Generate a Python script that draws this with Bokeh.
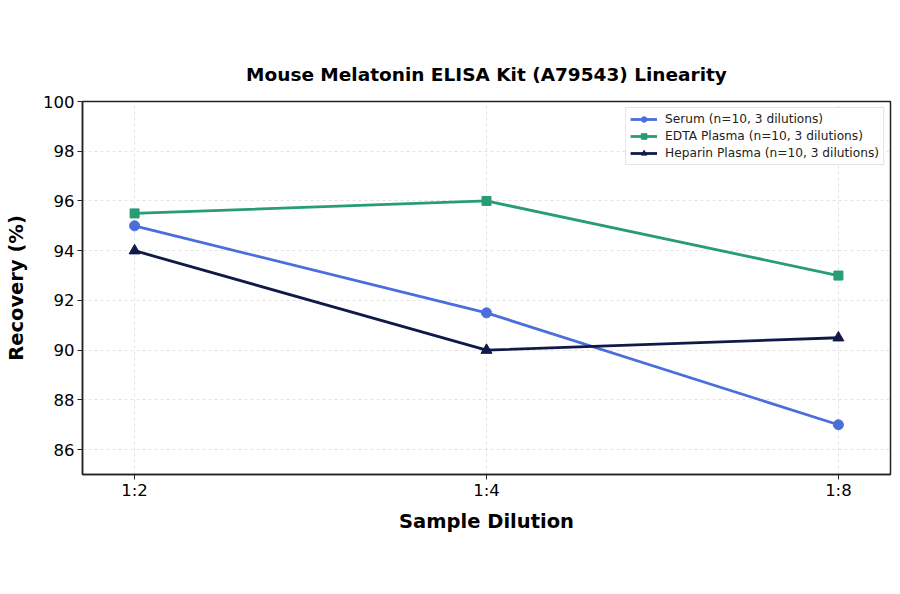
from bokeh.plotting import figure
from bokeh.models import Range1d, FixedTicker, Legend, LegendItem
from bokeh.embed import file_html
from bokeh.resources import INLINE

dilutions = ["1:2", "1:4", "1:8"]
serum = [95.0, 91.5, 87.0]
edta = [95.5, 96.0, 93.0]
heparin = [94.0, 90.0, 90.5]
y_ticks = [86, 88, 90, 92, 94, 96, 98, 100]

labels = ["Serum (n=10, 3 dilutions)", "EDTA Plasma (n=10, 3 dilutions)", "Heparin Plasma (n=10, 3 dilutions)"]
colors = ["#4a6fdc", "#279d74", "#101a48"]

x = list(range(len(dilutions)))
FONT = "DejaVu Sans"

p = figure(width=900, height=594, output_backend="svg", toolbar_location=None,
           x_range=Range1d(-0.148, len(dilutions) - 1 + 0.148), y_range=Range1d(85, 100),
           min_border_left=82, min_border_right=10, min_border_top=101, min_border_bottom=120)

p.title.text = "Mouse Melatonin ELISA Kit (A79543) Linearity"
p.title.align = "center"
p.title.text_font = FONT
p.title.text_font_size = "18.5px"
p.title.text_font_style = "bold"
p.title.text_color = "black"
p.title.standoff = 33

p.xaxis.ticker = FixedTicker(ticks=x)
p.xaxis.major_label_overrides = {i: d for i, d in zip(x, dilutions)}
p.yaxis.ticker = FixedTicker(ticks=y_ticks)

for ax in (p.xaxis[0], p.yaxis[0]):
    ax.major_label_text_font = FONT
    ax.major_label_text_font_size = "16.5px"
    ax.major_label_text_color = "black"
    ax.axis_label_text_font = FONT
    ax.axis_label_text_font_size = "19.5px"
    ax.axis_label_text_font_style = "bold"
    ax.axis_label_text_color = "black"
    ax.minor_tick_line_color = None
    ax.major_tick_out = 5
    ax.major_tick_in = 0
    ax.major_tick_line_color = "#222222"
    ax.axis_line_color = "#222222"
    ax.axis_line_width = 1.5

p.xaxis.axis_label = "Sample Dilution"
p.yaxis.axis_label = "Recovery (%)"
p.xaxis.axis_label_standoff = 7
p.yaxis.axis_label_standoff = 12
p.xaxis.major_label_standoff = 1
p.yaxis.major_label_standoff = 3

p.outline_line_color = "#222222"
p.outline_line_width = 1.5
p.grid.grid_line_color = "#cccccc"
p.grid.grid_line_alpha = 0.55
p.grid.grid_line_dash = "3 3"
p.background_fill_color = "white"
p.border_fill_color = "white"

r1 = p.line(x, serum, line_color=colors[0], line_width=2.8)
m1 = p.scatter(x, serum, marker="circle", size=10, fill_color=colors[0], line_color=colors[0])
r2 = p.line(x, edta, line_color=colors[1], line_width=2.8)
m2 = p.scatter(x, edta, marker="square", size=9, fill_color=colors[1], line_color=colors[1])
r3 = p.line(x, heparin, line_color=colors[2], line_width=2.8)
m3 = p.scatter(x, heparin, marker="triangle", size=11, fill_color=colors[2], line_color=colors[2])

legend = Legend(items=[LegendItem(label=labels[0], renderers=[r1, m1]),
                       LegendItem(label=labels[1], renderers=[r2, m2]),
                       LegendItem(label=labels[2], renderers=[r3, m3])],
                location="top_right")
legend.label_text_font = FONT
legend.label_text_font_size = "12.2px"
legend.label_text_color = "#222222"
legend.glyph_width = 27
legend.glyph_height = 14
legend.spacing = 3
legend.padding = 4
legend.margin = 6
legend.label_standoff = 8
legend.border_line_color = "#cccccc"
legend.border_line_width = 1
legend.background_fill_alpha = 0.9
p.add_layout(legend)

open("out.html", "w").write(file_html(p, INLINE))
